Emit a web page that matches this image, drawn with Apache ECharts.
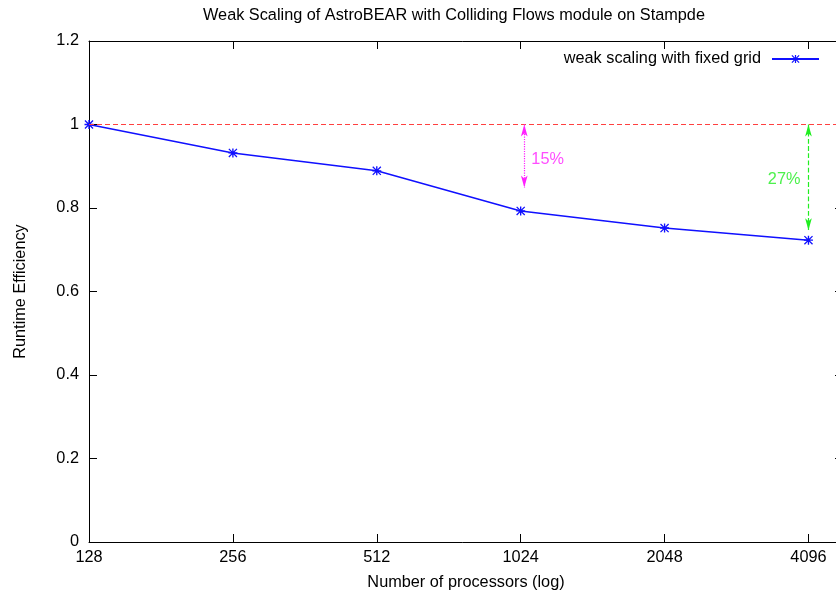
<!DOCTYPE html>
<html>
<head>
<meta charset="utf-8">
<script src="https://cdn.jsdelivr.net/npm/echarts@6/dist/echarts.min.js"></script>
<style>
  html, body { margin: 0; padding: 0; background: #fff; }
  #chart { width: 836px; height: 599px; }
</style>
</head>
<body>
<div id="chart"></div>
<script>
// data
var processors = [128, 256, 512, 1024, 2048, 4096];
var efficiency = [1.0, 0.932, 0.889, 0.793, 0.752, 0.723];
// gap arrows: x position (log2 steps from 128), top and bottom of the arrow
var gapX      = [3.025, 5.0];
var gapTop    = [1.0, 1.0];
var gapBottom = [0.849, 0.747];
var gapText   = ['15%', '27%'];
var gapColor  = ['#ff20ff', '#20ee20'];
var gapType   = ['dotted', 'dashed'];

var FONT = 'Liberation Sans';
var FS = 16.3;
var star = 'path://M0,4.25H10V5.75H0Z M4.25,0H5.75V10H4.25Z M0,1L1,0L10,9L9,10Z M9,0L10,1L1,10L0,9Z';

function logIdx(p) { return Math.log2(p / 128); }

var lineData = processors.map(function (p, i) { return [logIdx(p), efficiency[i]]; });

var arrowSeries = gapX.map(function (x, i) {
  return {
    type: 'line', data: [], silent: true,
    markLine: {
      silent: true,
      symbol: ['arrow', 'arrow'], symbolSize: [5, 12],
      label: { show: false },
      lineStyle: { color: gapColor[i], type: gapType[i], width: 1.2 },
      data: [[{ coord: [x, gapTop[i]] }, { coord: [x, gapBottom[i]] }]]
    }
  };
});

var textSeries = {
  type: 'scatter', silent: true, symbolSize: 0,
  data: [
    { value: [3.074, 0.917], label: { position: 'right', color: gapColor[0] } },
    { value: [4.944, 0.869], label: { position: 'left', color: gapColor[1] } }
  ],
  label: {
    show: true, distance: 0, fontFamily: FONT, fontSize: FS,
    formatter: function (p) { return gapText[p.dataIndex]; }
  }
};

var tick = { inside: true, length: 8, lineStyle: { color: '#000' } };
var line = { onZero: false, lineStyle: { color: '#000', width: 1 } };

var chart = echarts.init(document.getElementById('chart'));
chart.setOption({
  animation: false,
  textStyle: { fontFamily: FONT },
  title: {
    text: 'Weak Scaling of AstroBEAR with Colliding Flows module on Stampde',
    left: 203, top: 8, padding: 0,
    textStyle: { fontFamily: FONT, fontSize: FS, fontWeight: 'normal', color: '#000' }
  },
  legend: {
    data: ['weak scaling with fixed grid'],
    right: 11, top: 46, align: 'right',
    itemWidth: 47, itemHeight: 10,
    textStyle: { fontFamily: FONT, fontSize: FS, color: '#000', padding: [0, 6, 0, 0] }
  },
  grid: { left: 89, right: -7, top: 41, bottom: 57, outerBoundsMode: 'none', containLabel: false },
  xAxis: [{
    type: 'value', min: 0, max: 5.24, interval: 1,
    name: 'Number of processors (log)', nameLocation: 'middle', nameGap: 33,
    nameTextStyle: { fontFamily: FONT, fontSize: FS, color: '#000' },
    axisLine: line, axisTick: tick,
    axisLabel: {
      margin: 8, fontFamily: FONT, fontSize: FS, color: '#000', showMaxLabel: false,
      formatter: function (v) { return String(Math.round(128 * Math.pow(2, v))); }
    },
    splitLine: { show: false }
  }, {
    type: 'value', position: 'top', min: 0, max: 5.24, interval: 1,
    axisLine: line, axisTick: tick,
    axisLabel: { show: false }, splitLine: { show: false }
  }],
  yAxis: [{
    type: 'value', min: 0, max: 1.2, interval: 0.2,
    name: 'Runtime Efficiency', nameLocation: 'middle', nameGap: 60,
    nameTextStyle: { fontFamily: FONT, fontSize: FS, color: '#000' },
    axisLine: { show: true, onZero: false, lineStyle: line.lineStyle },
    axisTick: { show: true, inside: true, length: 8, lineStyle: { color: '#000' } },
    axisLabel: { margin: 10, fontFamily: FONT, fontSize: FS, color: '#000' },
    splitLine: { show: false }
  }, {
    type: 'value', position: 'right', min: 0, max: 1.2, interval: 0.2,
    axisLine: { show: true, onZero: false, lineStyle: line.lineStyle },
    axisTick: { show: true, inside: true, length: 8, lineStyle: { color: '#000' } },
    axisLabel: { show: false }, splitLine: { show: false }
  }],
  series: [{
    name: 'weak scaling with fixed grid',
    type: 'line', data: lineData,
    symbol: star, symbolSize: 9,
    color: '#1010ff',
    lineStyle: { color: '#1010ff', width: 1.5 },
    itemStyle: { color: '#1010ff' },
    markLine: {
      silent: true, symbol: 'none', label: { show: false },
      lineStyle: { color: '#ff4040', type: [5, 3], width: 1 },
      data: [{ yAxis: 1 }]
    }
  }].concat(arrowSeries, [textSeries])
});
</script>
</body>
</html>
